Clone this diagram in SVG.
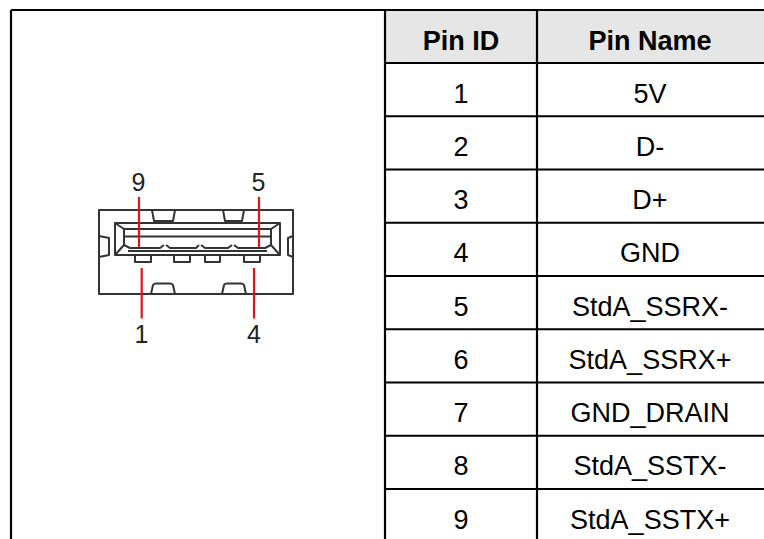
<svg xmlns="http://www.w3.org/2000/svg" width="764" height="539" viewBox="0 0 764 539">
<style>
.grid{stroke:#000;stroke-width:2.2;fill:none}
.hd{font-family:"Liberation Sans",Arial,sans-serif;font-size:27px;font-weight:bold;fill:#000;text-anchor:middle}
.td{font-family:"Liberation Sans",Arial,sans-serif;font-size:27px;fill:#000;text-anchor:middle}
.con{stroke:#333;stroke-width:2;fill:none;stroke-linejoin:round}
.pin{stroke:#e3131b;stroke-width:2.2}
.pl{font-family:"Liberation Sans",Arial,sans-serif;font-size:25px;fill:#222;text-anchor:middle}
</style>
<rect width="764" height="539" fill="#fff"/>
<g id="table">
<rect x="385" y="10" width="379" height="53" fill="#e6e6e6"/>
<path class="grid" d="M11 10H764M11 10V539M385 10V539M537 10V539M385 63H764M385 116.25H764M385 169.5H764M385 222.75H764M385 276H764M385 329.25H764M385 382.5H764M385 435.75H764M385 489H764"/>
<text class="hd" x="461" y="50">Pin ID</text>
<text class="hd" x="650" y="50">Pin Name</text>
<text class="td" x="461" y="102.5">1</text><text class="td" x="650" y="102.5">5V</text>
<text class="td" x="461" y="155.75">2</text><text class="td" x="650" y="155.75">D-</text>
<text class="td" x="461" y="209">3</text><text class="td" x="650" y="209">D+</text>
<text class="td" x="461" y="262.25">4</text><text class="td" x="650" y="262.25">GND</text>
<text class="td" x="461" y="315.5">5</text><text class="td" x="650" y="315.5">StdA_SSRX-</text>
<text class="td" x="461" y="368.75">6</text><text class="td" x="650" y="368.75">StdA_SSRX+</text>
<text class="td" x="461" y="422">7</text><text class="td" x="650" y="422">GND_DRAIN</text>
<text class="td" x="461" y="475.25">8</text><text class="td" x="650" y="475.25">StdA_SSTX-</text>
<text class="td" x="461" y="528.5">9</text><text class="td" x="650" y="528.5">StdA_SSTX+</text>
</g>
<g id="connector">
<rect class="con" x="99" y="210" width="194" height="84"/>
<path class="con" d="M152 210L154 221H173L175 210M223 210L225 221H242L244 210"/>
<path class="con" d="M151 294L153 285Q154 283.5 156 283.5H170Q172 283.5 173 285L175 294M222 294L224 285Q225 283.5 227 283.5H241Q243 283.5 244 285L246 294"/>
<path class="con" d="M99 236L109 238V255L99 257M293 236L288 238V255L293 257"/>
<rect class="con" x="115" y="223" width="165" height="32"/>
<path class="con" d="M115 223L124 229H271L280 223M124 229V245M271 229V245M124 236.5H271M115 255L124 245M280 255L271 245"/>
<path class="con" d="M124 245L130 248H160L164 245M166 245L170 248H196L199 245M201 245L205 248H228L232 245M234 245L238 248H265L271 245M128 251H267"/>
<path class="con" d="M135 255V262H151V255M174 255V262H190V255M205 255V262H220V255M244 255V262H260V255"/>
</g>
<g id="pins">
<path class="pin" d="M139 197V247M259 197V247M141.7 268V318.5M254 268V318.5"/>
<text class="pl" x="138.5" y="190.5">9</text>
<text class="pl" x="258.5" y="190.5">5</text>
<text class="pl" x="141.5" y="342.5">1</text>
<text class="pl" x="254" y="342.5">4</text>
</g>
</svg>
